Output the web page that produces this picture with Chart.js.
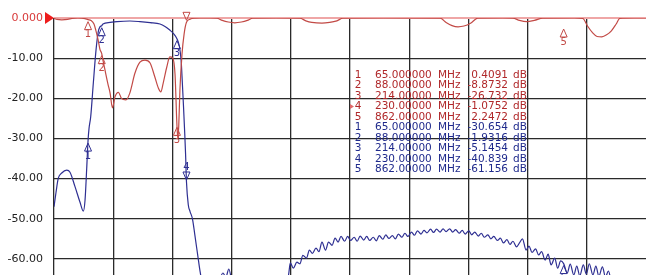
<!DOCTYPE html>
<html>
<head>
<meta charset="utf-8">
<script src="https://cdn.jsdelivr.net/npm/chart.js@4"></script>
<style>
  html, body { margin: 0; padding: 0; background: #fff; }
  canvas { display: block; }
</style>
</head>
<body>
<canvas id="vna" width="646" height="275"></canvas>
<script>
// S11 (red trace) - frequency in MHz, level in dB
const s11Freq = [
  8, 13, 21, 31, 38, 48, 60, 65, 70, 75,
  78, 82, 85, 88, 90, 93.5, 98.5, 102, 106, 110,
  116, 121, 128.6, 135, 143.7, 152, 160.5, 169, 177, 183,
  187, 191, 197, 202, 207, 210.8, 214, 215.5, 217, 219,
  222.5, 226, 230, 236, 244, 253, 270, 281, 290, 300,
  311, 322, 332, 341, 380, 420, 430, 440, 457, 470,
  482, 492, 560, 655, 665, 675, 685, 695, 706, 718,
  760, 777, 788, 800, 813, 827, 880, 894, 902, 910,
  918, 926, 934, 942, 950, 956, 980, 1000
];
const s11Db = [
  -0.1, -0.35, -0.45, -0.35, -0.1, 0, -0.15, -0.41, -0.6, -1.5,
  -3, -5.5, -7.8, -8.87, -10.5, -13, -16.5, -18.7, -22.4, -19.7,
  -18.5, -20, -20.4, -18.7, -13.7, -11, -10.5, -11.2, -14.7, -17.5,
  -18.4, -16.2, -12.2, -9.7, -10, -14, -26.7, -30, -27, -18,
  -9, -4, -1.07, -0.3, -0.05, 0, 0, -0.05, -0.6, -1.0,
  -1.2, -1.0, -0.6, -0.05, 0, -0.05, -0.7, -1.1, -1.3, -1.1,
  -0.7, -0.05, 0, -0.05, -1.1, -1.9, -2.2, -2.0, -1.3, -0.05,
  0, -0.05, -0.6, -0.9, -0.6, -0.05, 0, -0.1, -2, -3.6,
  -4.6, -4.7, -4.2, -3.2, -1.5, -0.1, 0, 0
];

// S21 (blue trace)
const s21Freq = [
  8, 11.4, 15.2, 21, 29.3, 34.8, 43.2, 51.6, 57.1, 60,
  62.8, 65, 66.7, 69.5, 73.9, 78.4, 82.2, 85, 88, 90,
  102, 113.6, 135, 152, 169, 185.6, 194, 202, 209, 214,
  218, 221, 223, 225, 227, 228.5, 230, 233, 236, 240,
  244, 250, 253, 258, 276, 286, 291, 296, 301, 306,
  313, 323, 330, 353, 378, 395, 401, 404, 409, 415,
  420, 425, 431, 436, 441, 447, 452, 457, 463, 468,
  474, 479, 484, 489, 495, 500, 505, 511, 516, 521,
  527, 532, 537, 543, 548, 553, 559, 564, 569, 575,
  580, 585, 591, 596, 601, 607, 612, 617, 623, 628,
  633, 639, 644, 649, 655, 660, 665, 671, 676, 681,
  687, 692, 697, 703, 708, 713, 719, 724, 729, 735,
  740, 745, 751, 756, 761, 767, 772, 777, 783, 788,
  793, 799, 804, 809, 815, 820, 825, 831, 836, 841,
  847, 852, 857, 862, 868, 873, 879, 884, 889, 895,
  900, 905, 911, 916, 921, 927, 932, 937, 943, 948,
  953, 960, 970, 985, 1000
];
const s21Db = [
  -47, -43.4, -39.9, -38.6, -37.9, -38.4, -42, -45.9, -48.1, -45.4,
  -37.5, -30.65, -27.5, -24.6, -16.2, -8, -3.4, -2.2, -1.93, -1.5,
  -1.1, -0.9, -0.75, -0.9, -1.15, -1.5, -2.1, -3, -4, -5.15,
  -7, -10.5, -16, -22, -28.5, -34, -40.84, -46.5, -48.2, -50,
  -54, -60.3, -63.3, -67, -68, -65, -63.5, -64.5, -62.5, -65.5,
  -67, -64.5, -67, -69, -68, -66, -64, -61, -62.3, -60.8,
  -61.2, -59.1, -59.8, -57.8, -58.6, -57.3, -58.2, -55.8, -57.8, -55.8,
  -56.6, -54.8, -55.8, -54.4, -55.6, -54.4, -55.4, -54.6, -55.6, -54.3,
  -55.3, -54.4, -55.4, -54.6, -55.5, -54.2, -55.1, -54.0, -54.9, -54.2,
  -55.0, -53.8, -54.6, -53.6, -54.4, -53.3, -54.1, -53.0, -53.8, -52.9,
  -53.5, -52.6, -53.4, -52.6, -53.3, -52.5, -53.2, -52.5, -53.3, -52.7,
  -53.6, -52.9, -53.8, -53.0, -54.0, -53.3, -54.3, -53.6, -54.6, -54.0,
  -55.0, -54.4, -55.4, -54.8, -56.0, -55.2, -56.4, -55.6, -57.0, -56.0,
  -55.0, -57.8, -56.8, -58.4, -57.5, -59.0, -58.2, -60.3, -58.8, -61.5,
  -59.8, -62.3, -60.5, -61.16, -63.5, -61.3, -64.0, -61.8, -64.2, -61.5,
  -63.8, -61.2, -64.0, -61.8, -64.3, -62.0, -64.5, -63.0, -66, -64.5,
  -66.5, -65.5, -67, -66.5, -68
];

// markers
const markerNames = ['1', '2', '3', '4', '5'];
const markerFreq = [65, 88, 214, 230, 862];
const markerS11 = [-0.4091, -8.8732, -26.732, -1.0752, -2.2472];
const markerS21 = [-30.654, -1.9316, -5.1454, -40.839, -61.156];
const activeMarker = 3;

// marker readout as shown on screen
const freqText = ['65.000000', '88.000000', '214.00000', '230.00000', '862.00000'];
const s11Text = ['0.4091', '-8.8732', '-26.732', '-1.0752', '2.2472'];
const s21Text = ['-30.654', '-1.9316', '-5.1454', '-40.839', '-61.156'];

// axis
const dbTicks = [0, -10, -20, -30, -40, -50, -60];
const gridFreq = [8, 107.2, 206.4, 305.6, 404.8, 504, 603.2, 702.4, 801.6, 900.8];

const s11Color = '#c24a46';
const s21Color = '#2e2f92';
const s11TextColor = '#b0282a';
const s21TextColor = '#1f2a8c';

const toXY = (fs, vs) => fs.map((f, i) => ({ x: f, y: vs[i] }));

const overlay = {
  id: 'overlay',
  afterDatasetsDraw(chart) {
    const { ctx, chartArea } = chart;
    const x = chart.scales.x, y = chart.scales.y;
    ctx.save();
    // reference level arrow
    const y0 = y.getPixelForValue(0);
    ctx.fillStyle = '#ee1c1c';
    ctx.beginPath();
    ctx.moveTo(45, y0 - 6); ctx.lineTo(54, y0); ctx.lineTo(45, y0 + 6);
    ctx.closePath(); ctx.fill();

    ctx.font = '10px "DejaVu Sans"';
    ctx.textAlign = 'center';
    ctx.textBaseline = 'middle';
    ctx.lineWidth = 1;
    [[markerS11, s11Color], [markerS21, s21Color]].forEach(([vals, col]) => {
      ctx.strokeStyle = col; ctx.fillStyle = col;
      markerFreq.forEach((f, i) => {
        const px = x.getPixelForValue(f), py = y.getPixelForValue(vals[i]);
        ctx.beginPath();
        if (i === activeMarker) {
          ctx.moveTo(px, py - 2); ctx.lineTo(px - 3.5, py - 10); ctx.lineTo(px + 3.5, py - 10);
          ctx.closePath(); ctx.stroke();
          if (py - 15 > chartArea.top) ctx.fillText(markerNames[i], px, py - 15);
        } else {
          ctx.moveTo(px, py + 2); ctx.lineTo(px - 3.5, py + 10); ctx.lineTo(px + 3.5, py + 10);
          ctx.closePath(); ctx.stroke();
          ctx.fillText(markerNames[i], px, py + 15);
        }
      });
    });
    ctx.restore();
  },
  afterDraw(chart) {
    const ctx = chart.ctx;
    ctx.save();
    ctx.font = '10.5px "DejaVu Sans"';
    ctx.textBaseline = 'middle';
    for (let k = 0; k < 10; k++) {
      const i = k % 5;
      const yy = 75 + 10.5 * k;
      ctx.fillStyle = k < 5 ? s11TextColor : s21TextColor;
      ctx.textAlign = 'center';
      ctx.fillText(markerNames[i], 358, yy);
      ctx.textAlign = 'left';
      ctx.fillText(freqText[i], 375, yy);
      ctx.fillText('MHz', 438, yy);
      ctx.textAlign = 'right';
      ctx.fillText(k < 5 ? s11Text[i] : s21Text[i], 508, yy);
      ctx.textAlign = 'left';
      ctx.fillText('dB', 513, yy);
      if (k === activeMarker) {
        ctx.fillStyle = '#e06a6a';
        ctx.beginPath();
        ctx.moveTo(350, yy - 2.5); ctx.lineTo(354, yy); ctx.lineTo(350, yy + 2.5);
        ctx.closePath(); ctx.fill();
      }
    }
    ctx.restore();
  }
};

// the tick label padding otherwise eats space above/below the plot
const noEdgePadding = s => {
  s.paddingTop = 0; s.paddingBottom = 0; s.paddingLeft = 0; s.paddingRight = 0;
};

new Chart(document.getElementById('vna'), {
  type: 'line',
  data: {
    datasets: [
      {
        label: 'S11',
        data: toXY(s11Freq, s11Db),
        borderColor: s11Color,
        borderWidth: 1.2,
        pointRadius: 0,
        cubicInterpolationMode: 'monotone',
        fill: false
      },
      {
        label: 'S21',
        data: toXY(s21Freq, s21Db),
        borderColor: s21Color,
        borderWidth: 1.2,
        pointRadius: 0,
        cubicInterpolationMode: 'monotone',
        fill: false
      }
    ]
  },
  options: {
    responsive: false,
    animation: false,
    layout: { padding: { top: 18, right: 0, bottom: 0, left: 0 } },
    plugins: {
      legend: { display: false },
      tooltip: { enabled: false }
    },
    scales: {
      x: {
        type: 'linear',
        min: 8,
        max: 1000,
        afterBuildTicks: s => { s.ticks = gridFreq.map(v => ({ value: v })); },
        afterFit: s => { s.height = 0; noEdgePadding(s); },
        ticks: { display: false },
        grid: { color: '#2a2a2a', lineWidth: 1.3, drawTicks: false },
        border: { display: false }
      },
      y: {
        min: -64,
        max: 0,
        afterBuildTicks: s => { s.ticks = dbTicks.map(v => ({ value: v })); },
        afterFit: s => { s.width = 54; noEdgePadding(s); },
        ticks: {
          padding: 11,
          font: { family: 'DejaVu Sans', size: 11 },
          color: c => (c.tick && c.tick.value === 0 ? '#d83a3a' : '#222'),
          callback: v => (v === 0 ? '0.000' : v.toFixed(2))
        },
        grid: {
          drawTicks: false,
          color: c => (c.tick && c.tick.value === 0 ? '#efa6a6' : '#2a2a2a'),
          lineWidth: c => (c.tick && c.tick.value === 0 ? 2 : 1.3)
        },
        border: { display: false }
      }
    }
  },
  plugins: [overlay]
});
</script>
</body>
</html>
